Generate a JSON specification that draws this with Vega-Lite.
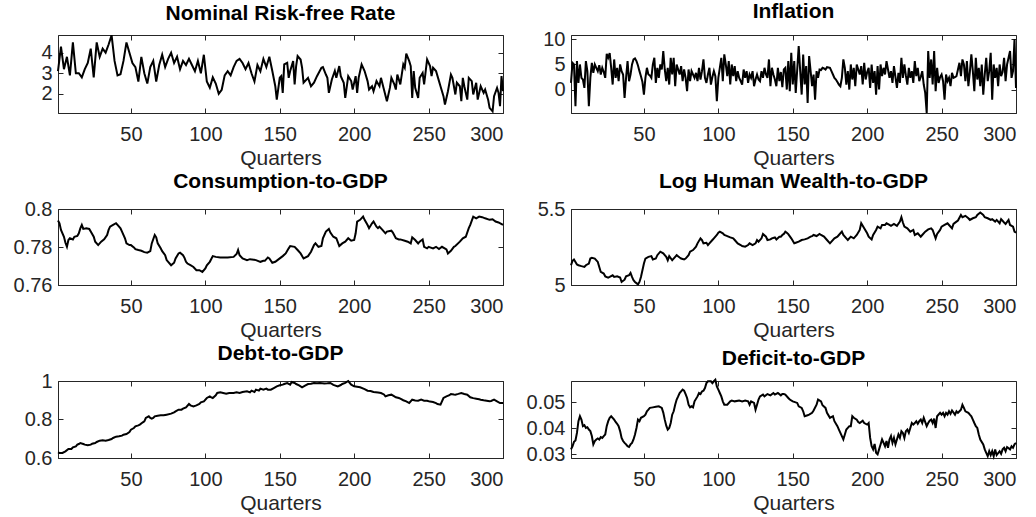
{
"$schema": "https://vega.github.io/schema/vega-lite/v6.json",
"background": "white",
"padding": {"left": 12, "top": 0, "right": 0, "bottom": 0},
"datasets": {
"rf": [{"q":1,"v":3.1},{"q":3,"v":4.3},{"q":5,"v":3.2},{"q":7,"v":3.8},{"q":9,"v":2.9},{"q":11,"v":4.5},{"q":13,"v":3.0},{"q":15,"v":3.0},{"q":17,"v":2.8},{"q":19,"v":3.2},{"q":21,"v":3.5},{"q":23,"v":4.2},{"q":25,"v":2.8},{"q":27,"v":4.5},{"q":29,"v":3.8},{"q":31,"v":4.2},{"q":33,"v":4.0},{"q":35,"v":4.4},{"q":37,"v":4.85},{"q":39,"v":3.6},{"q":41,"v":2.9},{"q":43,"v":2.95},{"q":45,"v":3.6},{"q":47,"v":4.5},{"q":49,"v":4.0},{"q":51,"v":3.5},{"q":53,"v":3.3},{"q":55,"v":2.6},{"q":57,"v":3.8},{"q":59,"v":3.0},{"q":61,"v":2.5},{"q":63,"v":3.3},{"q":65,"v":3.6},{"q":67,"v":2.6},{"q":69,"v":3.4},{"q":71,"v":3.9},{"q":73,"v":3.3},{"q":75,"v":3.7},{"q":77,"v":4.0},{"q":79,"v":3.5},{"q":81,"v":3.8},{"q":83,"v":3.2},{"q":85,"v":3.6},{"q":87,"v":3.4},{"q":89,"v":3.7},{"q":91,"v":3.4},{"q":93,"v":3.1},{"q":95,"v":3.6},{"q":97,"v":3.0},{"q":99,"v":3.9},{"q":101,"v":2.6},{"q":103,"v":2.3},{"q":105,"v":2.8},{"q":107,"v":2.5},{"q":109,"v":2.0},{"q":111,"v":2.2},{"q":113,"v":2.9},{"q":115,"v":3.1},{"q":117,"v":2.9},{"q":119,"v":3.3},{"q":121,"v":3.6},{"q":123,"v":3.7},{"q":125,"v":3.5},{"q":127,"v":3.2},{"q":129,"v":3.5},{"q":131,"v":3.0},{"q":133,"v":2.6},{"q":135,"v":3.4},{"q":137,"v":3.1},{"q":139,"v":3.7},{"q":141,"v":3.3},{"q":143,"v":3.8},
{"q":145,"v":3.11},{"q":147,"v":2.37},{"q":148,"v":1.72},{"q":150,"v":2.78},{"q":151,"v":2.86},{"q":152,"v":2.05},{"q":153,"v":3.43},{"q":155,"v":3.51},{"q":156,"v":2.78},{"q":157,"v":3.11},{"q":159,"v":3.59},{"q":160,"v":2.46},{"q":161,"v":3.35},{"q":162,"v":3.84},{"q":164,"v":3.67},{"q":165,"v":3.27},{"q":166,"v":2.54},{"q":169,"v":2.78},{"q":171,"v":2.37},{"q":173,"v":2.54},{"q":175,"v":2.86},{"q":178,"v":3.27},{"q":179,"v":3.30},{"q":181,"v":2.94},{"q":182,"v":2.78},{"q":183,"v":2.05},{"q":185,"v":2.70},{"q":187,"v":3.11},{"q":188,"v":2.78},{"q":190,"v":3.35},{"q":191,"v":2.86},{"q":193,"v":2.54},{"q":194,"v":1.80},{"q":196,"v":2.86},{"q":198,"v":2.62},{"q":199,"v":2.21},{"q":201,"v":2.86},{"q":202,"v":2.05},{"q":203,"v":2.78},{"q":205,"v":3.43},{"q":207,"v":3.11},{"q":209,"v":2.62},{"q":210,"v":2.21},{"q":212,"v":2.37},{"q":213,"v":2.13},{"q":215,"v":2.62},{"q":217,"v":2.37},{"q":218,"v":2.78},{"q":220,"v":2.21},{"q":222,"v":1.64},{"q":224,"v":2.29},{"q":225,"v":2.78},{"q":227,"v":2.46},{"q":228,"v":2.21},{"q":229,"v":2.94},{"q":231,"v":2.46},{"q":233,"v":3.43},{"q":234,"v":3.27},{"q":235,"v":3.95},{"q":237,"v":3.59},{"q":238,"v":3.35},{"q":239,"v":1.80},{"q":240,"v":3.11},{"q":241,"v":2.29},{"q":243,"v":1.80},{"q":244,"v":2.78},{"q":246,"v":3.02},{"q":247,"v":2.46},{"q":249,"v":3.67},{"q":251,"v":3.35},{"q":252,"v":2.86},{"q":253,"v":3.27},{"q":255,"v":3.11},{"q":257,"v":2.62},{"q":258,"v":2.37},{"q":260,"v":1.89},{"q":261,"v":1.48},{"q":263,"v":2.13},{"q":265,"v":2.94},{"q":266,"v":2.78},{"q":268,"v":1.97},{"q":269,"v":2.54},{"q":271,"v":2.37},{"q":272,"v":1.64},{"q":273,"v":2.78},{"q":274,"v":2.37},{"q":276,"v":1.72},{"q":277,"v":2.78},{"q":279,"v":2.62},{"q":280,"v":1.97},{"q":282,"v":2.54},{"q":283,"v":1.72},{"q":285,"v":2.37},{"q":287,"v":2.05},{"q":288,"v":2.21},{"q":290,"v":1.72},{"q":291,"v":1.32},{"q":293,"v":1.15},{"q":294,"v":1.89},{"q":296,"v":2.29},{"q":297,"v":2.05},{"q":298,"v":1.40},{"q":299,"v":2.86},{"q":300,"v":2.13}],
"inf": [{"q":1,"v":1.33},{"q":2,"v":5.33},{"q":3,"v":5.0},{"q":4,"v":-3.33},{"q":5,"v":5.67},{"q":6,"v":1.33},{"q":7,"v":5.0},{"q":8,"v":2.33},{"q":9,"v":2.0},{"q":10,"v":0.33},{"q":11,"v":5.67},{"q":12,"v":3.67},{"q":13,"v":-3.33},{"q":14,"v":2.33},{"q":15,"v":5.33},{"q":16,"v":3.33},{"q":17,"v":5.0},{"q":18,"v":4.33},{"q":19,"v":3.67},{"q":20,"v":4.87},{"q":21,"v":3.0},{"q":22,"v":4.33},{"q":23,"v":3.5},{"q":24,"v":2.33},{"q":25,"v":7.13},{"q":26,"v":6.33},{"q":27,"v":7.27},{"q":28,"v":4.33},{"q":29,"v":1.0},{"q":30,"v":6.0},{"q":31,"v":2.33},{"q":32,"v":4.33},{"q":33,"v":1.67},{"q":34,"v":5.0},{"q":35,"v":3.67},{"q":36,"v":3.0},{"q":37,"v":-1.67},{"q":38,"v":2.33},{"q":39,"v":5.67},{"q":40,"v":1.67},{"q":41,"v":3.0},{"q":42,"v":5.0},{"q":43,"v":6.0},{"q":44,"v":6.2},{"q":45,"v":5.67},{"q":46,"v":4.8},{"q":47,"v":3.67},{"q":48,"v":2.67},{"q":49,"v":1.5},{"q":50,"v":-1.0},{"q":51,"v":2.33},{"q":52,"v":4.33},{"q":53,"v":3.0},{"q":54,"v":2.8},{"q":55,"v":2.33},{"q":56,"v":5.0},{"q":57,"v":6.33},{"q":58,"v":1.33},{"q":59,"v":4.33},{"q":60,"v":2.33},{"q":61,"v":5.0},{"q":62,"v":4.0},{"q":63,"v":7.67},{"q":64,"v":4.0},{"q":65,"v":1.67},{"q":66,"v":4.33},{"q":67,"v":1.0},{"q":68,"v":6.33},{"q":69,"v":3.0},{"q":70,"v":6.33},{"q":71,"v":0.67},{"q":72,"v":5.0},{"q":73,"v":4.0},{"q":74,"v":3.0},{"q":75,"v":4.67},{"q":76,"v":1.67},{"q":77,"v":4.0},{"q":78,"v":2.33},{"q":79,"v":-0.33},{"q":80,"v":4.0},{"q":81,"v":1.67},{"q":82,"v":3.67},{"q":83,"v":3.0},{"q":84,"v":2.33},{"q":85,"v":3.33},{"q":86,"v":1.67},{"q":87,"v":4.33},{"q":88,"v":2.0},{"q":89,"v":3.67},{"q":90,"v":6.0},{"q":91,"v":2.33},{"q":92,"v":1.33},{"q":93,"v":3.0},{"q":94,"v":4.33},{"q":95,"v":1.0},{"q":96,"v":2.5},{"q":97,"v":3.67},{"q":98,"v":2.67},{"q":99,"v":-2.33},{"q":100,"v":2.33},{"q":101,"v":4.33},{"q":102,"v":6.33},{"q":103,"v":1.67},{"q":104,"v":7.0},{"q":105,"v":5.0},{"q":106,"v":2.67},{"q":107,"v":5.67},{"q":108,"v":1.0},{"q":109,"v":5.0},{"q":110,"v":2.67},{"q":111,"v":4.67},{"q":112,"v":1.67},{"q":113,"v":3.67},{"q":114,"v":2.33},{"q":115,"v":1.7},{"q":116,"v":1.0},{"q":117,"v":4.0},{"q":118,"v":2.33},{"q":119,"v":3.67},{"q":120,"v":1.33},{"q":121,"v":3.0},{"q":122,"v":2.33},{"q":123,"v":3.67},{"q":124,"v":0.67},{"q":125,"v":2.0},{"q":126,"v":3.0},{"q":127,"v":2.0},{"q":128,"v":1.67},{"q":129,"v":3.67},{"q":130,"v":2.33},{"q":131,"v":4.33},{"q":132,"v":3.0},{"q":133,"v":2.33},{"q":134,"v":6.0},{"q":135,"v":0.67},{"q":136,"v":4.33},{"q":137,"v":3.0},{"q":138,"v":2.0},{"q":139,"v":0.67},{"q":140,"v":4.33},{"q":141,"v":1.67},{"q":142,"v":3.5},{"q":143,"v":0.5},{"q":144,"v":4.0},{"q":145,"v":4.33},{"q":146,"v":0.0},{"q":147,"v":5.67},{"q":148,"v":-0.33},{"q":149,"v":7.33},{"q":150,"v":1.0},{"q":151,"v":5.67},{"q":152,"v":-0.67},{"q":153,"v":4.0},{"q":154,"v":8.67},{"q":155,"v":3.67},{"q":156,"v":-1.0},{"q":157,"v":7.0},{"q":158,"v":1.0},{"q":159,"v":4.67},{"q":160,"v":-2.67},{"q":161,"v":6.67},{"q":162,"v":3.67},{"q":163,"v":0.67},{"q":164,"v":3.0},{"q":165,"v":-2.0},{"q":166,"v":3.67},{"q":167,"v":2.33},{"q":168,"v":4.0},{"q":169,"v":3.9},{"q":170,"v":4.33},{"q":171,"v":4.2},{"q":172,"v":4.0},{"q":173,"v":4.47},{"q":174,"v":4.4},{"q":175,"v":4.33},{"q":176,"v":3.67},{"q":177,"v":3.0},{"q":178,"v":2.33},{"q":179,"v":2.0},{"q":180,"v":1.5},{"q":181,"v":1.0},{"q":182,"v":0.67},{"q":183,"v":2.33},{"q":184,"v":6.0},{"q":185,"v":4.33},{"q":186,"v":1.0},{"q":187,"v":3.67},{"q":188,"v":0.0},{"q":189,"v":5.0},{"q":190,"v":2.0},{"q":191,"v":4.33},{"q":192,"v":0.67},{"q":193,"v":5.0},{"q":194,"v":4.0},{"q":195,"v":3.0},{"q":196,"v":4.67},{"q":197,"v":1.0},{"q":198,"v":5.33},{"q":199,"v":2.0},{"q":200,"v":3.5},{"q":201,"v":4.33},{"q":202,"v":0.33},{"q":203,"v":5.0},{"q":204,"v":1.33},{"q":205,"v":3.67},{"q":206,"v":-1.0},{"q":207,"v":4.67},{"q":208,"v":0.0},{"q":209,"v":5.0},{"q":210,"v":2.67},{"q":211,"v":4.33},{"q":212,"v":3.0},{"q":213,"v":5.67},{"q":214,"v":4.0},{"q":215,"v":2.33},{"q":216,"v":3.67},{"q":217,"v":1.33},{"q":218,"v":4.67},{"q":219,"v":2.5},{"q":220,"v":0.33},{"q":221,"v":3.33},{"q":222,"v":1.33},{"q":223,"v":6.33},{"q":224,"v":2.33},{"q":225,"v":5.0},{"q":226,"v":2.8},{"q":227,"v":1.0},{"q":228,"v":4.33},{"q":229,"v":2.33},{"q":230,"v":3.67},{"q":231,"v":1.33},{"q":232,"v":5.67},{"q":233,"v":2.67},{"q":234,"v":4.33},{"q":235,"v":1.67},{"q":236,"v":2.5},{"q":237,"v":3.67},{"q":238,"v":1.0},{"q":239,"v":-0.67},{"q":240,"v":-4.67},{"q":241,"v":7.67},{"q":242,"v":2.33},{"q":243,"v":6.0},{"q":244,"v":1.0},{"q":245,"v":7.67},{"q":246,"v":-0.33},{"q":247,"v":4.33},{"q":248,"v":1.33},{"q":249,"v":2.5},{"q":250,"v":3.0},{"q":251,"v":1.67},{"q":252,"v":-2.0},{"q":253,"v":3.0},{"q":254,"v":1.67},{"q":255,"v":2.33},{"q":256,"v":0.67},{"q":257,"v":3.33},{"q":258,"v":2.33},{"q":259,"v":2.5},{"q":260,"v":2.67},{"q":261,"v":4.0},{"q":262,"v":5.33},{"q":263,"v":2.67},{"q":264,"v":6.0},{"q":265,"v":5.0},{"q":266,"v":1.67},{"q":267,"v":5.67},{"q":268,"v":0.67},{"q":269,"v":3.5},{"q":270,"v":7.0},{"q":271,"v":3.67},{"q":272,"v":-0.33},{"q":273,"v":6.33},{"q":274,"v":2.0},{"q":275,"v":4.33},{"q":276,"v":0.67},{"q":277,"v":5.0},{"q":278,"v":-1.0},{"q":279,"v":3.0},{"q":280,"v":6.33},{"q":281,"v":1.67},{"q":282,"v":3.67},{"q":283,"v":7.33},{"q":284,"v":-2.0},{"q":285,"v":5.0},{"q":286,"v":2.33},{"q":287,"v":4.33},{"q":288,"v":0.67},{"q":289,"v":5.0},{"q":290,"v":2.67},{"q":291,"v":3.5},{"q":292,"v":6.33},{"q":293,"v":1.67},{"q":294,"v":5.0},{"q":295,"v":6.33},{"q":296,"v":7.67},{"q":297,"v":2.33},{"q":298,"v":3.67},{"q":299,"v":10.0},{"q":300,"v":0.3}],
"cons": [{"q":1,"v":0.7939},{"q":2,"v":0.7925},{"q":3,"v":0.7890},{"q":5,"v":0.7854},{"q":6,"v":0.7822},{"q":7,"v":0.7801},{"q":8,"v":0.7837},{"q":9,"v":0.7846},{"q":11,"v":0.7840},{"q":12,"v":0.7854},{"q":14,"v":0.7858},{"q":15,"v":0.7872},{"q":16,"v":0.7898},{"q":17,"v":0.7916},{"q":18,"v":0.7895},{"q":20,"v":0.7898},{"q":22,"v":0.7895},{"q":23,"v":0.7881},{"q":25,"v":0.7854},{"q":26,"v":0.7828},{"q":28,"v":0.7810},{"q":30,"v":0.7828},{"q":32,"v":0.7840},{"q":34,"v":0.7863},{"q":35,"v":0.7890},{"q":36,"v":0.7907},{"q":38,"v":0.7916},{"q":40,"v":0.7925},{"q":41,"v":0.7916},{"q":43,"v":0.7898},{"q":44,"v":0.7881},{"q":46,"v":0.7846},{"q":47,"v":0.7819},{"q":49,"v":0.7810},{"q":50,"v":0.7810},{"q":52,"v":0.7798},{"q":53,"v":0.7789},{"q":55,"v":0.7784},{"q":57,"v":0.7780},{"q":59,"v":0.7773},{"q":61,"v":0.7770},{"q":63,"v":0.7778},{"q":64,"v":0.7819},{"q":66,"v":0.7863},{"q":67,"v":0.7851},{"q":68,"v":0.7819},{"q":70,"v":0.7793},{"q":71,"v":0.7778},{"q":73,"v":0.7757},{"q":74,"v":0.7731},{"q":77,"v":0.7704},{"q":79,"v":0.7717},{"q":80,"v":0.7740},{"q":82,"v":0.7766},{"q":83,"v":0.7770},{"q":85,"v":0.7757},{"q":86,"v":0.7743},{"q":87,"v":0.7722},{"q":88,"v":0.7713},{"q":90,"v":0.7704},{"q":92,"v":0.7695},{"q":94,"v":0.7678},{"q":96,"v":0.7678},{"q":98,"v":0.7669},{"q":100,"v":0.7687},{"q":101,"v":0.7704},{"q":103,"v":0.7722},{"q":105,"v":0.7752},{"q":107,"v":0.7748},{"q":110,"v":0.7745},{"q":115,"v":0.7745},{"q":119,"v":0.7748},{"q":121,"v":0.7763},{"q":122,"v":0.7784},{"q":123,"v":0.7757},{"q":125,"v":0.7740},{"q":128,"v":0.7731},{"q":130,"v":0.7736},{"q":134,"v":0.7731},{"q":137,"v":0.7722},{"q":139,"v":0.7727},{"q":140,"v":0.7727},{"q":142,"v":0.7745},{"q":143,"v":0.7740},{"q":145,"v":0.7717},{"q":147,"v":0.7722},{"q":150,"v":0.7740},{"q":152,"v":0.7752},{"q":154,"v":0.7766},{"q":156,"v":0.7793},{"q":157,"v":0.7805},{"q":160,"v":0.7801},{"q":162,"v":0.7784},{"q":164,"v":0.7766},{"q":166,"v":0.7740},{"q":169,"v":0.7752},{"q":171,"v":0.7775},{"q":173,"v":0.7810},{"q":174,"v":0.7819},{"q":176,"v":0.7801},{"q":178,"v":0.7805},{"q":179,"v":0.7846},{"q":181,"v":0.7881},{"q":183,"v":0.7895},{"q":184,"v":0.7876},{"q":186,"v":0.7854},{"q":188,"v":0.7846},{"q":190,"v":0.7805},{"q":192,"v":0.7819},{"q":194,"v":0.7828},{"q":196,"v":0.7846},{"q":198,"v":0.7833},{"q":200,"v":0.7837},{"q":201,"v":0.7872},{"q":202,"v":0.7934},{"q":204,"v":0.7943},{"q":206,"v":0.7960},{"q":207,"v":0.7943},{"q":209,"v":0.7916},{"q":210,"v":0.7899},{"q":212,"v":0.7925},{"q":213,"v":0.7934},{"q":215,"v":0.7907},{"q":216,"v":0.7899},{"q":217,"v":0.7907},{"q":219,"v":0.7890},{"q":221,"v":0.7872},{"q":222,"v":0.7881},{"q":225,"v":0.7886},{"q":226,"v":0.7876},{"q":228,"v":0.7846},{"q":230,"v":0.7840},{"q":231,"v":0.7840},{"q":234,"v":0.7833},{"q":236,"v":0.7828},{"q":238,"v":0.7819},{"q":239,"v":0.7851},{"q":241,"v":0.7837},{"q":243,"v":0.7819},{"q":244,"v":0.7828},{"q":246,"v":0.7840},{"q":247,"v":0.7801},{"q":249,"v":0.7793},{"q":250,"v":0.7801},{"q":253,"v":0.7793},{"q":255,"v":0.7801},{"q":257,"v":0.7789},{"q":259,"v":0.7801},{"q":262,"v":0.7787},{"q":263,"v":0.7766},{"q":265,"v":0.7780},{"q":267,"v":0.7801},{"q":268,"v":0.7805},{"q":271,"v":0.7828},{"q":273,"v":0.7846},{"q":275,"v":0.7854},{"q":277,"v":0.7899},{"q":278,"v":0.7916},{"q":280,"v":0.7960},{"q":282,"v":0.7951},{"q":284,"v":0.7960},{"q":286,"v":0.7957},{"q":288,"v":0.7951},{"q":291,"v":0.7943},{"q":293,"v":0.7946},{"q":295,"v":0.7934},{"q":297,"v":0.7929},{"q":300,"v":0.7916}],
"lhw": [{"q":1,"v":5.130},{"q":2,"v":5.159},{"q":3,"v":5.168},{"q":4,"v":5.152},{"q":5,"v":5.135},{"q":6,"v":5.130},{"q":8,"v":5.124},{"q":10,"v":5.119},{"q":11,"v":5.130},{"q":13,"v":5.141},{"q":14,"v":5.174},{"q":15,"v":5.179},{"q":17,"v":5.174},{"q":19,"v":5.152},{"q":20,"v":5.119},{"q":21,"v":5.086},{"q":23,"v":5.075},{"q":24,"v":5.057},{"q":26,"v":5.049},{"q":27,"v":5.053},{"q":29,"v":5.064},{"q":30,"v":5.053},{"q":32,"v":5.057},{"q":34,"v":5.049},{"q":35,"v":5.020},{"q":37,"v":5.035},{"q":38,"v":5.057},{"q":40,"v":5.064},{"q":41,"v":5.079},{"q":42,"v":5.053},{"q":43,"v":5.031},{"q":44,"v":5.020},{"q":46,"v":5.004},{"q":47,"v":5.020},{"q":48,"v":5.053},{"q":49,"v":5.097},{"q":50,"v":5.141},{"q":51,"v":5.174},{"q":53,"v":5.185},{"q":55,"v":5.190},{"q":56,"v":5.168},{"q":58,"v":5.174},{"q":59,"v":5.196},{"q":61,"v":5.219},{"q":63,"v":5.208},{"q":65,"v":5.185},{"q":66,"v":5.163},{"q":67,"v":5.190},{"q":69,"v":5.163},{"q":71,"v":5.185},{"q":72,"v":5.196},{"q":74,"v":5.181},{"q":75,"v":5.174},{"q":77,"v":5.168},{"q":78,"v":5.174},{"q":80,"v":5.196},{"q":81,"v":5.219},{"q":83,"v":5.230},{"q":85,"v":5.252},{"q":86,"v":5.274},{"q":88,"v":5.307},{"q":89,"v":5.296},{"q":90,"v":5.274},{"q":92,"v":5.278},{"q":93,"v":5.263},{"q":94,"v":5.274},{"q":96,"v":5.296},{"q":97,"v":5.307},{"q":99,"v":5.329},{"q":100,"v":5.344},{"q":101,"v":5.351},{"q":103,"v":5.340},{"q":104,"v":5.329},{"q":106,"v":5.322},{"q":108,"v":5.313},{"q":110,"v":5.307},{"q":111,"v":5.296},{"q":113,"v":5.274},{"q":115,"v":5.263},{"q":116,"v":5.256},{"q":118,"v":5.252},{"q":120,"v":5.263},{"q":121,"v":5.274},{"q":123,"v":5.263},{"q":125,"v":5.274},{"q":126,"v":5.296},{"q":127,"v":5.285},{"q":129,"v":5.307},{"q":130,"v":5.336},{"q":132,"v":5.318},{"q":133,"v":5.296},{"q":135,"v":5.300},{"q":136,"v":5.307},{"q":138,"v":5.313},{"q":139,"v":5.300},{"q":141,"v":5.318},{"q":142,"v":5.318},{"q":143,"v":5.329},{"q":144,"v":5.336},{"q":145,"v":5.351},{"q":146,"v":5.344},{"q":147,"v":5.335},{"q":149,"v":5.307},{"q":151,"v":5.274},{"q":152,"v":5.278},{"q":154,"v":5.285},{"q":156,"v":5.296},{"q":158,"v":5.300},{"q":160,"v":5.307},{"q":162,"v":5.318},{"q":163,"v":5.322},{"q":164,"v":5.329},{"q":166,"v":5.322},{"q":168,"v":5.336},{"q":169,"v":5.329},{"q":171,"v":5.318},{"q":173,"v":5.296},{"q":175,"v":5.274},{"q":176,"v":5.285},{"q":178,"v":5.307},{"q":180,"v":5.318},{"q":181,"v":5.329},{"q":183,"v":5.351},{"q":184,"v":5.329},{"q":186,"v":5.307},{"q":187,"v":5.296},{"q":189,"v":5.318},{"q":191,"v":5.307},{"q":193,"v":5.329},{"q":195,"v":5.362},{"q":196,"v":5.406},{"q":198,"v":5.373},{"q":200,"v":5.340},{"q":201,"v":5.318},{"q":203,"v":5.300},{"q":204,"v":5.329},{"q":206,"v":5.362},{"q":207,"v":5.384},{"q":209,"v":5.373},{"q":210,"v":5.395},{"q":212,"v":5.395},{"q":213,"v":5.406},{"q":215,"v":5.395},{"q":216,"v":5.389},{"q":218,"v":5.402},{"q":220,"v":5.389},{"q":222,"v":5.417},{"q":223,"v":5.446},{"q":224,"v":5.411},{"q":225,"v":5.384},{"q":227,"v":5.373},{"q":229,"v":5.351},{"q":231,"v":5.362},{"q":232,"v":5.329},{"q":234,"v":5.340},{"q":236,"v":5.318},{"q":237,"v":5.329},{"q":239,"v":5.351},{"q":241,"v":5.366},{"q":243,"v":5.373},{"q":244,"v":5.362},{"q":246,"v":5.307},{"q":247,"v":5.336},{"q":249,"v":5.362},{"q":250,"v":5.384},{"q":252,"v":5.395},{"q":254,"v":5.406},{"q":255,"v":5.395},{"q":257,"v":5.373},{"q":258,"v":5.402},{"q":260,"v":5.417},{"q":261,"v":5.424},{"q":263,"v":5.461},{"q":264,"v":5.446},{"q":266,"v":5.455},{"q":268,"v":5.439},{"q":269,"v":5.428},{"q":271,"v":5.439},{"q":273,"v":5.446},{"q":274,"v":5.461},{"q":276,"v":5.477},{"q":278,"v":5.461},{"q":279,"v":5.446},{"q":281,"v":5.439},{"q":283,"v":5.428},{"q":284,"v":5.433},{"q":286,"v":5.417},{"q":287,"v":5.428},{"q":289,"v":5.406},{"q":290,"v":5.433},{"q":292,"v":5.411},{"q":293,"v":5.402},{"q":295,"v":5.428},{"q":296,"v":5.395},{"q":298,"v":5.384},{"q":299,"v":5.351},{"q":300,"v":5.344}],
"debt": [{"q":1,"v":0.6294},{"q":2,"v":0.6260},{"q":4,"v":0.6260},{"q":6,"v":0.6346},{"q":8,"v":0.6468},{"q":10,"v":0.6468},{"q":11,"v":0.6554},{"q":13,"v":0.6606},{"q":14,"v":0.6693},{"q":15,"v":0.6727},{"q":16,"v":0.6779},{"q":18,"v":0.6727},{"q":19,"v":0.6693},{"q":21,"v":0.6658},{"q":23,"v":0.6693},{"q":24,"v":0.6745},{"q":26,"v":0.6779},{"q":27,"v":0.6831},{"q":29,"v":0.6900},{"q":31,"v":0.6918},{"q":33,"v":0.6900},{"q":35,"v":0.6935},{"q":37,"v":0.6987},{"q":38,"v":0.7039},{"q":40,"v":0.7108},{"q":42,"v":0.7126},{"q":44,"v":0.7160},{"q":45,"v":0.7212},{"q":47,"v":0.7247},{"q":49,"v":0.7351},{"q":50,"v":0.7472},{"q":52,"v":0.7558},{"q":53,"v":0.7645},{"q":55,"v":0.7697},{"q":56,"v":0.7732},{"q":58,"v":0.7853},{"q":59,"v":0.7905},{"q":60,"v":0.8078},{"q":62,"v":0.8165},{"q":63,"v":0.8078},{"q":64,"v":0.8043},{"q":65,"v":0.8078},{"q":66,"v":0.8165},{"q":68,"v":0.8199},{"q":70,"v":0.8216},{"q":72,"v":0.8216},{"q":74,"v":0.8251},{"q":77,"v":0.8303},{"q":79,"v":0.8372},{"q":80,"v":0.8424},{"q":82,"v":0.8511},{"q":84,"v":0.8511},{"q":85,"v":0.8563},{"q":87,"v":0.8632},{"q":89,"v":0.8805},{"q":90,"v":0.8736},{"q":92,"v":0.8684},{"q":94,"v":0.8736},{"q":96,"v":0.8805},{"q":97,"v":0.8892},{"q":99,"v":0.8944},{"q":101,"v":0.9117},{"q":103,"v":0.9203},{"q":104,"v":0.9152},{"q":105,"v":0.9117},{"q":107,"v":0.9255},{"q":108,"v":0.9377},{"q":110,"v":0.9411},{"q":112,"v":0.9377},{"q":114,"v":0.9342},{"q":116,"v":0.9377},{"q":119,"v":0.9377},{"q":121,"v":0.9411},{"q":123,"v":0.9377},{"q":125,"v":0.9429},{"q":128,"v":0.9463},{"q":130,"v":0.9411},{"q":131,"v":0.9498},{"q":133,"v":0.9429},{"q":134,"v":0.9550},{"q":136,"v":0.9498},{"q":137,"v":0.9602},{"q":139,"v":0.9550},{"q":141,"v":0.9602},{"q":142,"v":0.9550},{"q":144,"v":0.9550},{"q":146,"v":0.9636},{"q":148,"v":0.9723},{"q":150,"v":0.9775},{"q":152,"v":0.9810},{"q":153,"v":0.9844},{"q":155,"v":0.9896},{"q":157,"v":0.9810},{"q":158,"v":0.9948},{"q":160,"v":0.9896},{"q":161,"v":0.9844},{"q":163,"v":0.9775},{"q":165,"v":0.9671},{"q":167,"v":0.9760},{"q":169,"v":0.9844},{"q":171,"v":0.9860},{"q":173,"v":0.9896},{"q":175,"v":0.9880},{"q":177,"v":0.9896},{"q":180,"v":0.9870},{"q":182,"v":0.9879},{"q":184,"v":0.9896},{"q":186,"v":0.9800},{"q":189,"v":0.9723},{"q":191,"v":0.9790},{"q":192,"v":0.9844},{"q":194,"v":0.9900},{"q":196,"v":1.0},{"q":198,"v":0.9810},{"q":200,"v":0.9723},{"q":202,"v":0.9700},{"q":204,"v":0.9671},{"q":207,"v":0.9580},{"q":209,"v":0.9498},{"q":211,"v":0.9480},{"q":213,"v":0.9429},{"q":216,"v":0.9400},{"q":218,"v":0.9377},{"q":220,"v":0.9300},{"q":221,"v":0.9203},{"q":223,"v":0.9260},{"q":225,"v":0.9290},{"q":227,"v":0.9200},{"q":228,"v":0.9152},{"q":230,"v":0.9117},{"q":231,"v":0.9082},{"q":233,"v":0.9000},{"q":235,"v":0.8944},{"q":237,"v":0.8857},{"q":239,"v":0.9030},{"q":241,"v":0.8990},{"q":243,"v":0.8978},{"q":245,"v":0.9030},{"q":247,"v":0.8980},{"q":249,"v":0.8978},{"q":251,"v":0.8930},{"q":253,"v":0.8909},{"q":255,"v":0.8850},{"q":256,"v":0.8805},{"q":258,"v":0.8771},{"q":260,"v":0.9117},{"q":262,"v":0.9203},{"q":264,"v":0.9260},{"q":265,"v":0.9325},{"q":267,"v":0.9300},{"q":268,"v":0.9290},{"q":270,"v":0.9330},{"q":272,"v":0.9377},{"q":274,"v":0.9325},{"q":276,"v":0.9290},{"q":278,"v":0.9152},{"q":280,"v":0.9110},{"q":282,"v":0.9082},{"q":284,"v":0.9050},{"q":285,"v":0.9030},{"q":287,"v":0.9000},{"q":289,"v":0.8978},{"q":291,"v":0.8944},{"q":292,"v":0.8960},{"q":294,"v":0.9030},{"q":296,"v":0.8944},{"q":298,"v":0.8857},{"q":300,"v":0.8857}],
"def": [{"q":1,"v":0.0319},{"q":2,"v":0.0331},{"q":3,"v":0.0348},{"q":4,"v":0.0353},{"q":5,"v":0.0382},{"q":6,"v":0.0427},{"q":7,"v":0.0446},{"q":8,"v":0.0433},{"q":9,"v":0.0408},{"q":10,"v":0.0412},{"q":11,"v":0.0401},{"q":12,"v":0.0404},{"q":13,"v":0.0395},{"q":14,"v":0.0389},{"q":15,"v":0.0370},{"q":16,"v":0.0338},{"q":17,"v":0.0351},{"q":18,"v":0.0357},{"q":19,"v":0.0361},{"q":20,"v":0.0357},{"q":21,"v":0.0366},{"q":22,"v":0.0363},{"q":23,"v":0.0370},{"q":24,"v":0.0376},{"q":25,"v":0.0408},{"q":26,"v":0.0427},{"q":27,"v":0.0440},{"q":28,"v":0.0446},{"q":30,"v":0.0433},{"q":31,"v":0.0424},{"q":32,"v":0.0417},{"q":33,"v":0.0408},{"q":34,"v":0.0389},{"q":35,"v":0.0363},{"q":36,"v":0.0351},{"q":37,"v":0.0344},{"q":38,"v":0.0338},{"q":39,"v":0.0331},{"q":40,"v":0.0328},{"q":41,"v":0.0338},{"q":42,"v":0.0344},{"q":43,"v":0.0357},{"q":44,"v":0.0376},{"q":45,"v":0.0401},{"q":46,"v":0.0433},{"q":47,"v":0.0427},{"q":48,"v":0.0440},{"q":50,"v":0.0446},{"q":51,"v":0.0452},{"q":52,"v":0.0465},{"q":53,"v":0.0471},{"q":54,"v":0.0478},{"q":56,"v":0.0480},{"q":58,"v":0.0482},{"q":60,"v":0.0484},{"q":62,"v":0.0478},{"q":63,"v":0.0460},{"q":64,"v":0.0433},{"q":65,"v":0.0410},{"q":66,"v":0.0395},{"q":67,"v":0.0401},{"q":68,"v":0.0420},{"q":69,"v":0.0452},{"q":70,"v":0.0465},{"q":71,"v":0.0490},{"q":72,"v":0.0510},{"q":73,"v":0.0522},{"q":74,"v":0.0535},{"q":76,"v":0.0548},{"q":77,"v":0.0544},{"q":78,"v":0.0531},{"q":79,"v":0.0516},{"q":80,"v":0.0490},{"q":81,"v":0.0480},{"q":82,"v":0.0484},{"q":83,"v":0.0480},{"q":84,"v":0.0503},{"q":86,"v":0.0522},{"q":87,"v":0.0535},{"q":88,"v":0.0531},{"q":89,"v":0.0541},{"q":90,"v":0.0544},{"q":91,"v":0.0554},{"q":92,"v":0.0573},{"q":93,"v":0.0580},{"q":95,"v":0.0580},{"q":96,"v":0.0573},{"q":97,"v":0.0580},{"q":98,"v":0.0586},{"q":99,"v":0.0560},{"q":100,"v":0.0548},{"q":101,"v":0.0535},{"q":102,"v":0.0522},{"q":103,"v":0.0503},{"q":104,"v":0.0490},{"q":106,"v":0.0490},{"q":108,"v":0.0503},{"q":109,"v":0.0506},{"q":111,"v":0.0503},{"q":114,"v":0.0506},{"q":116,"v":0.0503},{"q":118,"v":0.0506},{"q":120,"v":0.0503},{"q":121,"v":0.0490},{"q":122,"v":0.0503},{"q":124,"v":0.0497},{"q":125,"v":0.0471},{"q":126,"v":0.0490},{"q":127,"v":0.0510},{"q":128,"v":0.0522},{"q":130,"v":0.0529},{"q":131,"v":0.0522},{"q":133,"v":0.0531},{"q":135,"v":0.0526},{"q":137,"v":0.0535},{"q":138,"v":0.0529},{"q":140,"v":0.0535},{"q":142,"v":0.0526},{"q":143,"v":0.0531},{"q":144,"v":0.0531},{"q":145,"v":0.0529},{"q":147,"v":0.0516},{"q":148,"v":0.0510},{"q":150,"v":0.0503},{"q":151,"v":0.0501},{"q":153,"v":0.0497},{"q":154,"v":0.0484},{"q":156,"v":0.0478},{"q":157,"v":0.0465},{"q":158,"v":0.0446},{"q":160,"v":0.0450},{"q":161,"v":0.0452},{"q":163,"v":0.0459},{"q":164,"v":0.0468},{"q":166,"v":0.0490},{"q":167,"v":0.0510},{"q":169,"v":0.0503},{"q":170,"v":0.0488},{"q":172,"v":0.0478},{"q":173,"v":0.0459},{"q":175,"v":0.0440},{"q":177,"v":0.0446},{"q":178,"v":0.0427},{"q":180,"v":0.0408},{"q":181,"v":0.0395},{"q":183,"v":0.0370},{"q":184,"v":0.0357},{"q":185,"v":0.0376},{"q":186,"v":0.0395},{"q":188,"v":0.0408},{"q":189,"v":0.0408},{"q":190,"v":0.0446},{"q":191,"v":0.0440},{"q":193,"v":0.0433},{"q":194,"v":0.0424},{"q":195,"v":0.0420},{"q":197,"v":0.0429},{"q":198,"v":0.0420},{"q":200,"v":0.0414},{"q":201,"v":0.0420},{"q":202,"v":0.0363},{"q":203,"v":0.0331},{"q":204,"v":0.0319},{"q":205,"v":0.0340},{"q":206,"v":0.0306},{"q":207,"v":0.0300},{"q":208,"v":0.0319},{"q":209,"v":0.0338},{"q":210,"v":0.0357},{"q":212,"v":0.0331},{"q":213,"v":0.0351},{"q":214,"v":0.0325},{"q":215,"v":0.0357},{"q":216,"v":0.0370},{"q":217,"v":0.0344},{"q":218,"v":0.0363},{"q":219,"v":0.0338},{"q":221,"v":0.0376},{"q":222,"v":0.0363},{"q":223,"v":0.0389},{"q":224,"v":0.0382},{"q":225,"v":0.0363},{"q":226,"v":0.0389},{"q":227,"v":0.0395},{"q":228,"v":0.0382},{"q":230,"v":0.0420},{"q":231,"v":0.0414},{"q":232,"v":0.0420},{"q":233,"v":0.0427},{"q":234,"v":0.0417},{"q":235,"v":0.0427},{"q":236,"v":0.0433},{"q":237,"v":0.0420},{"q":238,"v":0.0440},{"q":240,"v":0.0408},{"q":241,"v":0.0420},{"q":242,"v":0.0429},{"q":243,"v":0.0433},{"q":244,"v":0.0420},{"q":245,"v":0.0437},{"q":246,"v":0.0401},{"q":247,"v":0.0446},{"q":249,"v":0.0459},{"q":250,"v":0.0452},{"q":251,"v":0.0459},{"q":252,"v":0.0446},{"q":253,"v":0.0459},{"q":254,"v":0.0452},{"q":255,"v":0.0465},{"q":256,"v":0.0455},{"q":257,"v":0.0468},{"q":259,"v":0.0452},{"q":260,"v":0.0465},{"q":261,"v":0.0459},{"q":262,"v":0.0465},{"q":263,"v":0.0471},{"q":264,"v":0.0490},{"q":265,"v":0.0478},{"q":266,"v":0.0465},{"q":268,"v":0.0459},{"q":269,"v":0.0452},{"q":270,"v":0.0446},{"q":271,"v":0.0433},{"q":272,"v":0.0420},{"q":273,"v":0.0408},{"q":274,"v":0.0401},{"q":275,"v":0.0376},{"q":276,"v":0.0357},{"q":278,"v":0.0338},{"q":279,"v":0.0319},{"q":280,"v":0.0306},{"q":281,"v":0.0293},{"q":282,"v":0.0312},{"q":283,"v":0.0297},{"q":284,"v":0.0312},{"q":285,"v":0.0293},{"q":286,"v":0.0319},{"q":287,"v":0.0297},{"q":289,"v":0.0312},{"q":290,"v":0.0302},{"q":291,"v":0.0319},{"q":292,"v":0.0325},{"q":293,"v":0.0312},{"q":294,"v":0.0328},{"q":296,"v":0.0319},{"q":297,"v":0.0331},{"q":298,"v":0.0325},{"q":299,"v":0.0338},{"q":300,"v":0.0344}]
},
"config": {
  "font": "Liberation Sans",
  "view": {"stroke": "#262626", "strokeWidth": 1},
  "axis": {"labelFont": "Liberation Sans", "labelFontSize": 20, "labelColor": "#262626", "titleFont": "Liberation Sans", "titleFontSize": 21, "titleFontWeight": "normal", "titleColor": "#262626", "domainColor": "#262626", "tickColor": "#262626", "tickSize": -5, "grid": false, "format": "~r", "labelOverlap": false},
  "axisX": {"labelPadding": 16, "titlePadding": 3},
  "axisY": {"labelPadding": 11},
  "title": {"font": "Liberation Sans", "fontSize": 21, "fontWeight": "bold", "color": "#000000", "offset": 7},
  "line": {"color": "#000000", "strokeWidth": 2, "clip": true}
},
"columns": 2,
"spacing": {"row": 96, "column": 68},
"bounds": "flush",
"concat": [
  {"title": "Nominal Risk-free Rate", "width": 445, "height": 78, "data": {"name": "rf"},
   "layer": [
    {"mark": "line", "encoding": {"x": {"field": "q", "type": "quantitative", "scale": {"domain": [1, 300], "nice": false, "zero": false}, "axis": {"title": "Quarters", "values": [50,100,150,200,250,300]}},
                "y": {"field": "v", "type": "quantitative", "scale": {"domain": [1.07, 4.86], "nice": false, "zero": false}, "axis": {"title": null, "values": [2,3,4]}}}},
    {"mark": {"type": "line", "opacity": 0}, "encoding": {"x": {"field": "q", "type": "quantitative", "scale": {"domain": [1, 300], "nice": false, "zero": false}, "axis": {"orient": "top", "title": null, "labels": false, "domain": false, "values": [50,100,150,200,250,300]}},
                "y": {"field": "v", "type": "quantitative", "scale": {"domain": [1.07, 4.86], "nice": false, "zero": false}, "axis": {"orient": "right", "title": null, "labels": false, "domain": false, "values": [2,3,4]}}}}
   ], "resolve": {"axis": {"x": "independent", "y": "independent"}}},
  {"title": "Inflation", "width": 445, "height": 78, "data": {"name": "inf"},
   "layer": [
    {"mark": "line", "encoding": {"x": {"field": "q", "type": "quantitative", "scale": {"domain": [1, 300], "nice": false, "zero": false}, "axis": {"title": "Quarters", "values": [50,100,150,200,250,300]}},
                "y": {"field": "v", "type": "quantitative", "scale": {"domain": [-4.67, 10.87], "nice": false, "zero": false}, "axis": {"title": null, "values": [0,5,10]}}}},
    {"mark": {"type": "line", "opacity": 0}, "encoding": {"x": {"field": "q", "type": "quantitative", "scale": {"domain": [1, 300], "nice": false, "zero": false}, "axis": {"orient": "top", "title": null, "labels": false, "domain": false, "values": [50,100,150,200,250,300]}},
                "y": {"field": "v", "type": "quantitative", "scale": {"domain": [-4.67, 10.87], "nice": false, "zero": false}, "axis": {"orient": "right", "title": null, "labels": false, "domain": false, "values": [0,5,10]}}}}
   ], "resolve": {"axis": {"x": "independent", "y": "independent"}}},
  {"title": "Consumption-to-GDP", "width": 445, "height": 76, "data": {"name": "cons"},
   "layer": [
    {"mark": "line", "encoding": {"x": {"field": "q", "type": "quantitative", "scale": {"domain": [1, 300], "nice": false, "zero": false}, "axis": {"title": "Quarters", "values": [50,100,150,200,250,300]}},
                "y": {"field": "v", "type": "quantitative", "scale": {"domain": [0.76, 0.8], "nice": false, "zero": false}, "axis": {"title": null, "values": [0.76,0.78,0.8]}}}},
    {"mark": {"type": "line", "opacity": 0}, "encoding": {"x": {"field": "q", "type": "quantitative", "scale": {"domain": [1, 300], "nice": false, "zero": false}, "axis": {"orient": "top", "title": null, "labels": false, "domain": false, "values": [50,100,150,200,250,300]}},
                "y": {"field": "v", "type": "quantitative", "scale": {"domain": [0.76, 0.8], "nice": false, "zero": false}, "axis": {"orient": "right", "title": null, "labels": false, "domain": false, "values": [0.76,0.78,0.8]}}}}
   ], "resolve": {"axis": {"x": "independent", "y": "independent"}}},
  {"title": "Log Human Wealth-to-GDP", "width": 445, "height": 76, "data": {"name": "lhw"},
   "layer": [
    {"mark": "line", "encoding": {"x": {"field": "q", "type": "quantitative", "scale": {"domain": [1, 300], "nice": false, "zero": false}, "axis": {"title": "Quarters", "values": [50,100,150,200,250,300]}},
                "y": {"field": "v", "type": "quantitative", "scale": {"domain": [5, 5.5], "nice": false, "zero": false}, "axis": {"title": null, "values": [5,5.5]}}}},
    {"mark": {"type": "line", "opacity": 0}, "encoding": {"x": {"field": "q", "type": "quantitative", "scale": {"domain": [1, 300], "nice": false, "zero": false}, "axis": {"orient": "top", "title": null, "labels": false, "domain": false, "values": [50,100,150,200,250,300]}},
                "y": {"field": "v", "type": "quantitative", "scale": {"domain": [5, 5.5], "nice": false, "zero": false}, "axis": {"orient": "right", "title": null, "labels": false, "domain": false, "values": [5,5.5]}}}}
   ], "resolve": {"axis": {"x": "independent", "y": "independent"}}},
  {"title": "Debt-to-GDP", "width": 445, "height": 77, "data": {"name": "debt"},
   "layer": [
    {"mark": "line", "encoding": {"x": {"field": "q", "type": "quantitative", "scale": {"domain": [1, 300], "nice": false, "zero": false}, "axis": {"title": "Quarters", "values": [50,100,150,200,250,300]}},
                "y": {"field": "v", "type": "quantitative", "scale": {"domain": [0.6, 1.0], "nice": false, "zero": false}, "axis": {"title": null, "values": [0.6,0.8,1]}}}},
    {"mark": {"type": "line", "opacity": 0}, "encoding": {"x": {"field": "q", "type": "quantitative", "scale": {"domain": [1, 300], "nice": false, "zero": false}, "axis": {"orient": "top", "title": null, "labels": false, "domain": false, "values": [50,100,150,200,250,300]}},
                "y": {"field": "v", "type": "quantitative", "scale": {"domain": [0.6, 1.0], "nice": false, "zero": false}, "axis": {"orient": "right", "title": null, "labels": false, "domain": false, "values": [0.6,0.8,1]}}}}
   ], "resolve": {"axis": {"x": "independent", "y": "independent"}}},
  {"title": "Deficit-to-GDP", "width": 445, "height": 77, "data": {"name": "def"},
   "layer": [
    {"mark": "line", "encoding": {"x": {"field": "q", "type": "quantitative", "scale": {"domain": [1, 300], "nice": false, "zero": false}, "axis": {"title": "Quarters", "values": [50,100,150,200,250,300]}},
                "y": {"field": "v", "type": "quantitative", "scale": {"domain": [0.0286, 0.0581], "nice": false, "zero": false}, "axis": {"title": null, "values": [0.03,0.04,0.05]}}}},
    {"mark": {"type": "line", "opacity": 0}, "encoding": {"x": {"field": "q", "type": "quantitative", "scale": {"domain": [1, 300], "nice": false, "zero": false}, "axis": {"orient": "top", "title": null, "labels": false, "domain": false, "values": [50,100,150,200,250,300]}},
                "y": {"field": "v", "type": "quantitative", "scale": {"domain": [0.0286, 0.0581], "nice": false, "zero": false}, "axis": {"orient": "right", "title": null, "labels": false, "domain": false, "values": [0.03,0.04,0.05]}}}}
   ], "resolve": {"axis": {"x": "independent", "y": "independent"}}}
]
}
